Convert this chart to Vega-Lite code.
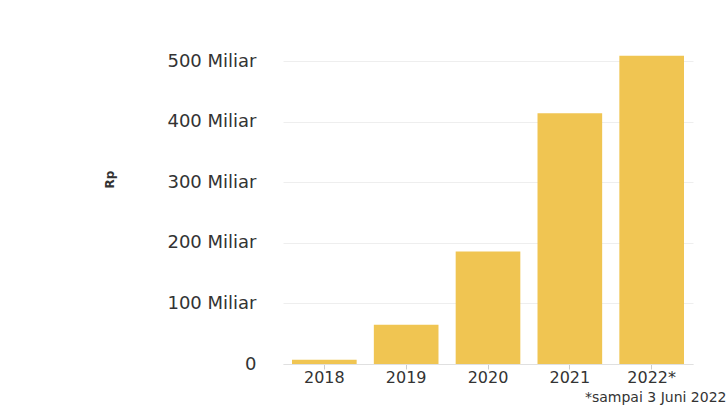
{
  "$schema": "https://vega.github.io/schema/vega-lite/v6.json",
  "autosize": "none",
  "padding": {"left": 283, "top": 31, "right": 34, "bottom": 41},
  "width": 410,
  "height": 333,
  "background": "white",
  "config": {
    "view": {"stroke": null},
    "font": "DejaVu Sans"
  },
  "data": {
    "values": [
      {"tahun": "2018", "nilai": 7},
      {"tahun": "2019", "nilai": 65},
      {"tahun": "2020", "nilai": 186},
      {"tahun": "2021", "nilai": 414},
      {"tahun": "2022*", "nilai": 509}
    ]
  },
  "mark": {"type": "bar", "color": "#F0C552"},
  "encoding": {
    "x": {
      "field": "tahun",
      "type": "nominal",
      "sort": null,
      "scale": {"paddingInner": 0.21, "paddingOuter": 0.11},
      "axis": {
        "title": "*sampai 3 Juni 2022",
        "titleFont": "DejaVu Sans",
        "titleFontSize": 14,
        "titleFontWeight": "normal",
        "titleColor": "#333333",
        "titleAnchor": null,
        "titleAlign": "right",
        "titleBaseline": "alphabetic",
        "titleX": 443,
        "titleY": 37,
        "labelAngle": 0,
        "labelFont": "DejaVu Sans",
        "labelFontSize": 16,
        "labelColor": "#333333",
        "labelBaseline": "middle",
        "labelPadding": 8,
        "tickSize": 5,
        "tickColor": "#cccccc",
        "domainColor": "#e0e0e0",
        "grid": false
      }
    },
    "y": {
      "field": "nilai",
      "type": "quantitative",
      "scale": {"domain": [0, 550], "nice": false},
      "axis": {
        "title": "Rp",
        "titleFont": "DejaVu Sans",
        "titleFontSize": 12,
        "titleFontWeight": "bold",
        "titleColor": "#333333",
        "titleAngle": -90,
        "titleAlign": "center",
        "titleBaseline": "middle",
        "titleX": -174,
        "titleY": 148,
        "values": [0, 100, 200, 300, 400, 500],
        "labelExpr": "datum.value == 0 ? '0' : datum.value + ' Miliar'",
        "labelFont": "DejaVu Sans",
        "labelFontSize": 18,
        "labelColor": "#333333",
        "labelPadding": 27,
        "tickSize": 0,
        "domain": false,
        "gridColor": "#eeeeee"
      }
    }
  }
}
